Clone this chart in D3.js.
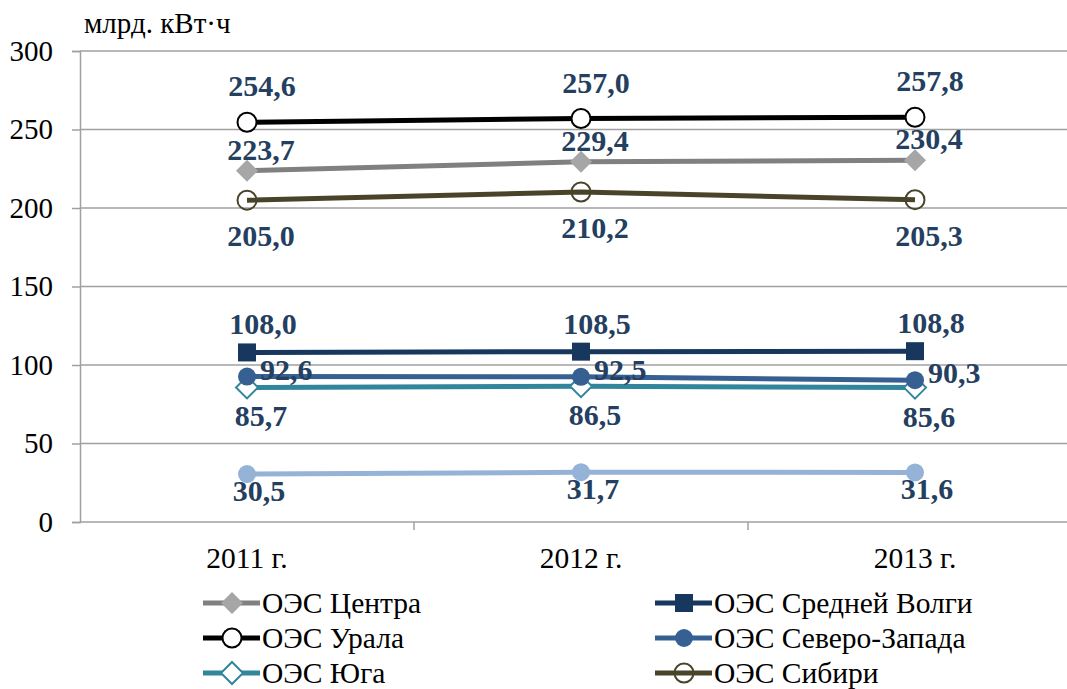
<!DOCTYPE html>
<html>
<head>
<meta charset="utf-8">
<script src="https://cdn.jsdelivr.net/npm/d3@7"></script>
<style>
  body { margin: 0; background: #fff; }
</style>
</head>
<body>
<div id="chart"></div>
<script>
// Chart data
const years = ["2011 г.", "2012 г.", "2013 г."];
const yTicks = [0, 50, 100, 150, 200, 250, 300];
const unitLabel = "млрд. кВт·ч";

const centerValues = [223.7, 229.4, 230.4];
const volgaValues = [108.0, 108.5, 108.8];
const uralValues = [254.6, 257.0, 257.8];
const northWestValues = [92.6, 92.5, 90.3];
const southValues = [85.7, 86.5, 85.6];
const siberiaValues = [205.0, 210.2, 205.3];
const eastValues = [30.5, 31.7, 31.6];

const FONT = "Liberation Serif";

// Series styles (draw order: back to front)
const series = [
    {name: "ОЭС Востока", values: eastValues, color: "#95B3D7", marker: "circle", fill: "#95B3D7", lab: {dx: 12, dy: 27, anchor: "middle"}},
    {name: "ОЭС Юга", values: southValues, color: "#31859C", marker: "diamond", fill: "#fff", lab: {dx: 14, dy: 39, anchor: "middle"}},
    {name: "ОЭС Северо-Запада", values: northWestValues, color: "#376092", marker: "circle", fill: "#376092", lab: {dx: 13, dy: 3, anchor: "start"}},
    {name: "ОЭС Средней Волги", values: volgaValues, color: "#17375E", marker: "square", fill: "#17375E", lab: {dx: 16, dy: -18, anchor: "middle"}},
    {name: "ОЭС Сибири", values: siberiaValues, color: "#494429", marker: "circle", fill: "none", lab: {dx: 14, dy: 46, anchor: "middle"}},
    {name: "ОЭС Центра", values: centerValues, color: "#808080", marker: "diamond", fill: "#A6A6A6", lab: {dx: 14, dy: -11, anchor: "middle"}},
    {name: "ОЭС Урала", values: uralValues, color: "#000000", marker: "circle", fill: "#fff", lab: {dx: 15, dy: -26, anchor: "middle"}}
];

// Legend order as in the reference (two columns)
const legendOrder = ["ОЭС Центра", "ОЭС Средней Волги", "ОЭС Урала", "ОЭС Северо-Запада", "ОЭС Юга", "ОЭС Сибири"];

const width = 1067, height = 689;
const plot = {left: 80, right: 1082, top: 51, bottom: 522};
const fmt = v => d3.format(".1f")(v).replace(".", ",");

const svg = d3.select("#chart").append("svg")
    .attr("width", width)
    .attr("height", height);

const x = d3.scalePoint().domain(years).range([plot.left, plot.right]).padding(0.5);
const xBand = d3.scaleBand().domain(years).range([plot.left, plot.right]);
const y = d3.scaleLinear().domain([0, 300]).range([plot.bottom, plot.top]);

// Gridlines
svg.append("g")
    .selectAll("line")
    .data(yTicks.filter(d => d > 0))
    .enter().append("line")
    .attr("x1", plot.left).attr("x2", width)
    .attr("y1", d => y(d)).attr("y2", d => y(d))
    .attr("stroke", "#A0A0A0").attr("stroke-width", 1.5);

// Y axis
const yAxis = svg.append("g")
    .attr("transform", `translate(${plot.left},0)`)
    .call(d3.axisLeft(y).tickValues(yTicks).tickSize(8).tickPadding(19).tickFormat(d3.format("d")));
yAxis.select(".domain").attr("stroke", "#A0A0A0").attr("stroke-width", 1.5);
yAxis.selectAll(".tick line").attr("stroke", "#A0A0A0").attr("stroke-width", 1.5);
yAxis.selectAll("text")
    .style("font-family", FONT)
    .style("font-size", "29px")
    .attr("fill", "#000");

// X axis
const xAxis = svg.append("g")
    .attr("transform", `translate(0,${plot.bottom})`)
    .call(d3.axisBottom(xBand).tickSize(0).tickPadding(25));
xAxis.select(".domain").remove();
xAxis.append("line")
    .attr("x1", plot.left).attr("x2", width)
    .attr("stroke", "#A0A0A0").attr("stroke-width", 1.5);
xAxis.selectAll(".tick text")
    .style("font-family", FONT)
    .style("font-size", "29.5px")
    .attr("fill", "#000");
xAxis.selectAll(".bound")
    .data(years.slice(1))
    .enter().append("line")
    .attr("x1", d => xBand(d)).attr("x2", d => xBand(d))
    .attr("y1", 0).attr("y2", 8)
    .attr("stroke", "#A0A0A0").attr("stroke-width", 1.5);

// Unit label
svg.append("text")
    .attr("x", 84).attr("y", 33)
    .style("font-family", FONT)
    .style("font-size", "29px")
    .text(unitLabel);

// Marker drawing
function drawMarker(g, s, cx, cy) {
    if (s.marker === "circle") {
        const r = s.fill === s.color ? 9 : 9.5;
        g.append("circle")
            .attr("cx", cx).attr("cy", cy).attr("r", r)
            .attr("fill", s.fill)
            .attr("stroke", s.color).attr("stroke-width", s.fill === s.color ? 0 : 2);
    } else if (s.marker === "square") {
        g.append("rect")
            .attr("x", cx - 9).attr("y", cy - 9).attr("width", 18).attr("height", 18)
            .attr("fill", s.fill);
    } else if (s.marker === "diamond") {
        const d = 11;
        g.append("path")
            .attr("d", `M${cx},${cy - d}L${cx + d},${cy}L${cx},${cy + d}L${cx - d},${cy}Z`)
            .attr("fill", s.fill)
            .attr("stroke", s.fill === "#fff" ? s.color : "none")
            .attr("stroke-width", 2);
    }
}

const line = d3.line()
    .x((d, i) => x(years[i]))
    .y(d => y(d));

series.forEach(s => {
    const g = svg.append("g");
    g.append("path")
        .datum(s.values)
        .attr("d", line)
        .attr("fill", "none")
        .attr("stroke", s.color)
        .attr("stroke-width", 5);
    s.values.forEach((v, i) => drawMarker(g, s, x(years[i]), y(v)));
});

// Data labels on top
series.forEach(s => {
    svg.append("g")
        .selectAll("text")
        .data(s.values)
        .enter().append("text")
        .attr("x", (d, i) => x(years[i]) + s.lab.dx)
        .attr("y", d => y(d) + s.lab.dy)
        .attr("text-anchor", s.lab.anchor)
        .style("font-family", FONT)
        .style("font-size", "30px")
        .style("font-weight", "bold")
        .attr("fill", "#243F60")
        .text(d => fmt(d));
});

// Legend
const legend = svg.append("g");
legendOrder.forEach((name, i) => {
    const s = series.find(d => d.name === name);
    const col = i % 2, row = Math.floor(i / 2);
    const lx = col === 0 ? 203 : 655;
    const ly = 603 + row * 35;
    const g = legend.append("g");
    g.append("line")
        .attr("x1", lx).attr("x2", lx + 57)
        .attr("y1", ly).attr("y2", ly)
        .attr("stroke", s.color).attr("stroke-width", 5);
    drawMarker(g, s, lx + 29, ly);
    g.append("text")
        .attr("x", lx + 59).attr("y", ly + 10)
        .style("font-family", FONT)
        .style("font-size", "29.5px")
        .text(name);
});
</script>
</body>
</html>
